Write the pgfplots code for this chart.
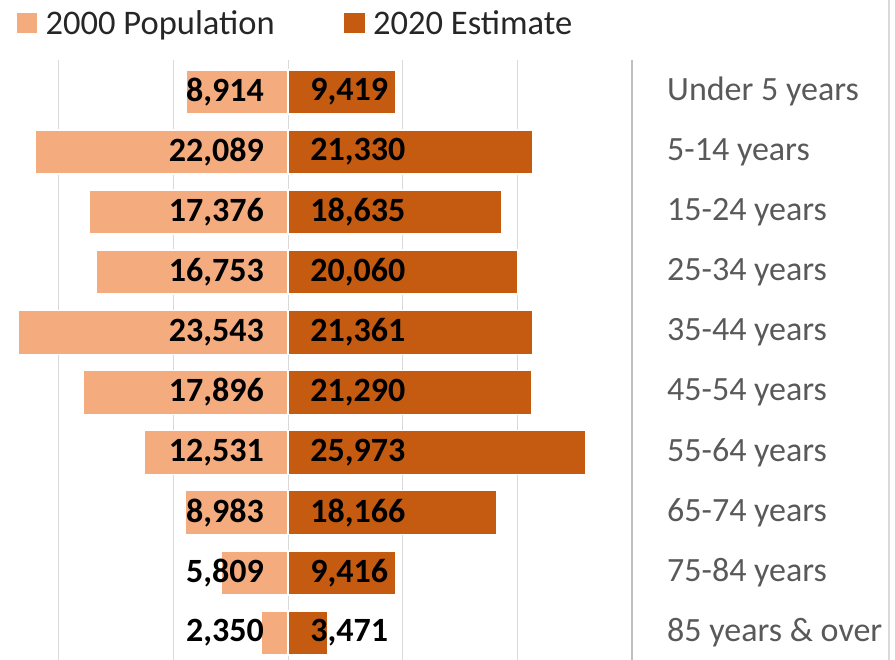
\documentclass[border=0pt]{standalone}
\usepackage{pgfplots}
\pgfplotsset{compat=1.18}
\usepackage{pgfplotstable}
\usepackage{fontspec}
\setmainfont{Carlito}

\definecolor{popold}{HTML}{F4AC7E}
\definecolor{popnew}{HTML}{C55A11}
\definecolor{labgray}{HTML}{595959}
\definecolor{gridgray}{HTML}{D9D9D9}
\definecolor{axgray}{HTML}{BFBFBF}

\pgfplotstableread{
row pop2000 est2020
0 8914 9419
1 22089 21330
2 17376 18635
3 16753 20060
4 23543 21361
5 17896 21290
6 12531 25973
7 8983 18166
8 5809 9416
9 2350 3471
}\agedata

\begin{document}
\begin{tikzpicture}
\begin{axis}[
    scale only axis,
    width=632bp, height=600bp,
    xmin=-25130, xmax=30000,
    ymin=-0.53, ymax=9.45,
    y dir=reverse,
    bar shift=0pt,
    bar width=44bp,
    axis line style={draw=none},
    xtick={-20000,-10000,0,10000,20000},
    xticklabels={},
    xmajorgrids,
    grid style={gridgray, line width=1bp},
    ytick={0,...,9},
    yticklabels={Under 5 years,5-14 years,15-24 years,25-34 years,35-44 years,
        45-54 years,55-64 years,65-74 years,75-84 years,85 years \& over},
    yticklabel pos=right,
    major tick length=0pt,
    yticklabel style={anchor=west, inner sep=0pt, xshift=35bp,
        font=\fontsize{34bp}{40bp}\selectfont, text=labgray},
    /pgf/number format/.cd, 1000 sep={,}, fixed, precision=0, assume math mode=true,
    /pgfplots/.cd,
    clip=false,
    legend columns=-1,
    legend image code/.code={\fill[#1] (0bp,-11bp) rectangle (22bp,11bp);},
    legend style={draw=none, fill=none, at={(0,1)}, anchor=west,
        xshift=15bp, yshift=37bp, inner sep=0pt,
        font=\fontsize{34.5bp}{40bp}\selectfont, text=black!85,
        cells={anchor=west},
        nodes={inner sep=2bp},
        /tikz/every odd column/.append style={column sep=5bp},
        /tikz/every even column/.append style={column sep=66bp}},
]
\coordinate (ll) at (axis description cs:0,0);
\addplot[xbar, fill=popold, draw=white, line width=1.5bp]
    table[x expr=-\thisrow{pop2000}, y=row] {\agedata};
\addlegendentry{2000 Population}
\addplot[xbar, fill=popnew, draw=white, line width=1.5bp]
    table[x=est2020, y=row] {\agedata};
\addlegendentry{2020 Estimate}
% value labels at the bar bases
\addplot[forget plot, only marks, mark=none, point meta=explicit,
    nodes near coords,
    every node near coord/.append style={anchor=east, xshift=-24bp, inner sep=0pt,
        font=\fontsize{34bp}{40bp}\selectfont\bfseries, text=black}]
    table[x expr=0, y=row, meta=pop2000] {\agedata};
\addplot[forget plot, only marks, mark=none, point meta=explicit,
    nodes near coords,
    every node near coord/.append style={anchor=west, xshift=22bp, inner sep=0pt,
        font=\fontsize{34bp}{40bp}\selectfont\bfseries, text=black}]
    table[x expr=0, y=row, meta=est2020] {\agedata};
\draw[axgray, line width=1.2bp] (axis description cs:1,0) -- (axis description cs:1,1);
\end{axis}
\draw[gridgray, line width=1.5bp] ([xshift=889bp]ll) -- ++(0,660bp);
\pgfresetboundingbox
\path (ll) rectangle ([shift={(895bp,660bp)}]ll);
\end{tikzpicture}
\end{document}
